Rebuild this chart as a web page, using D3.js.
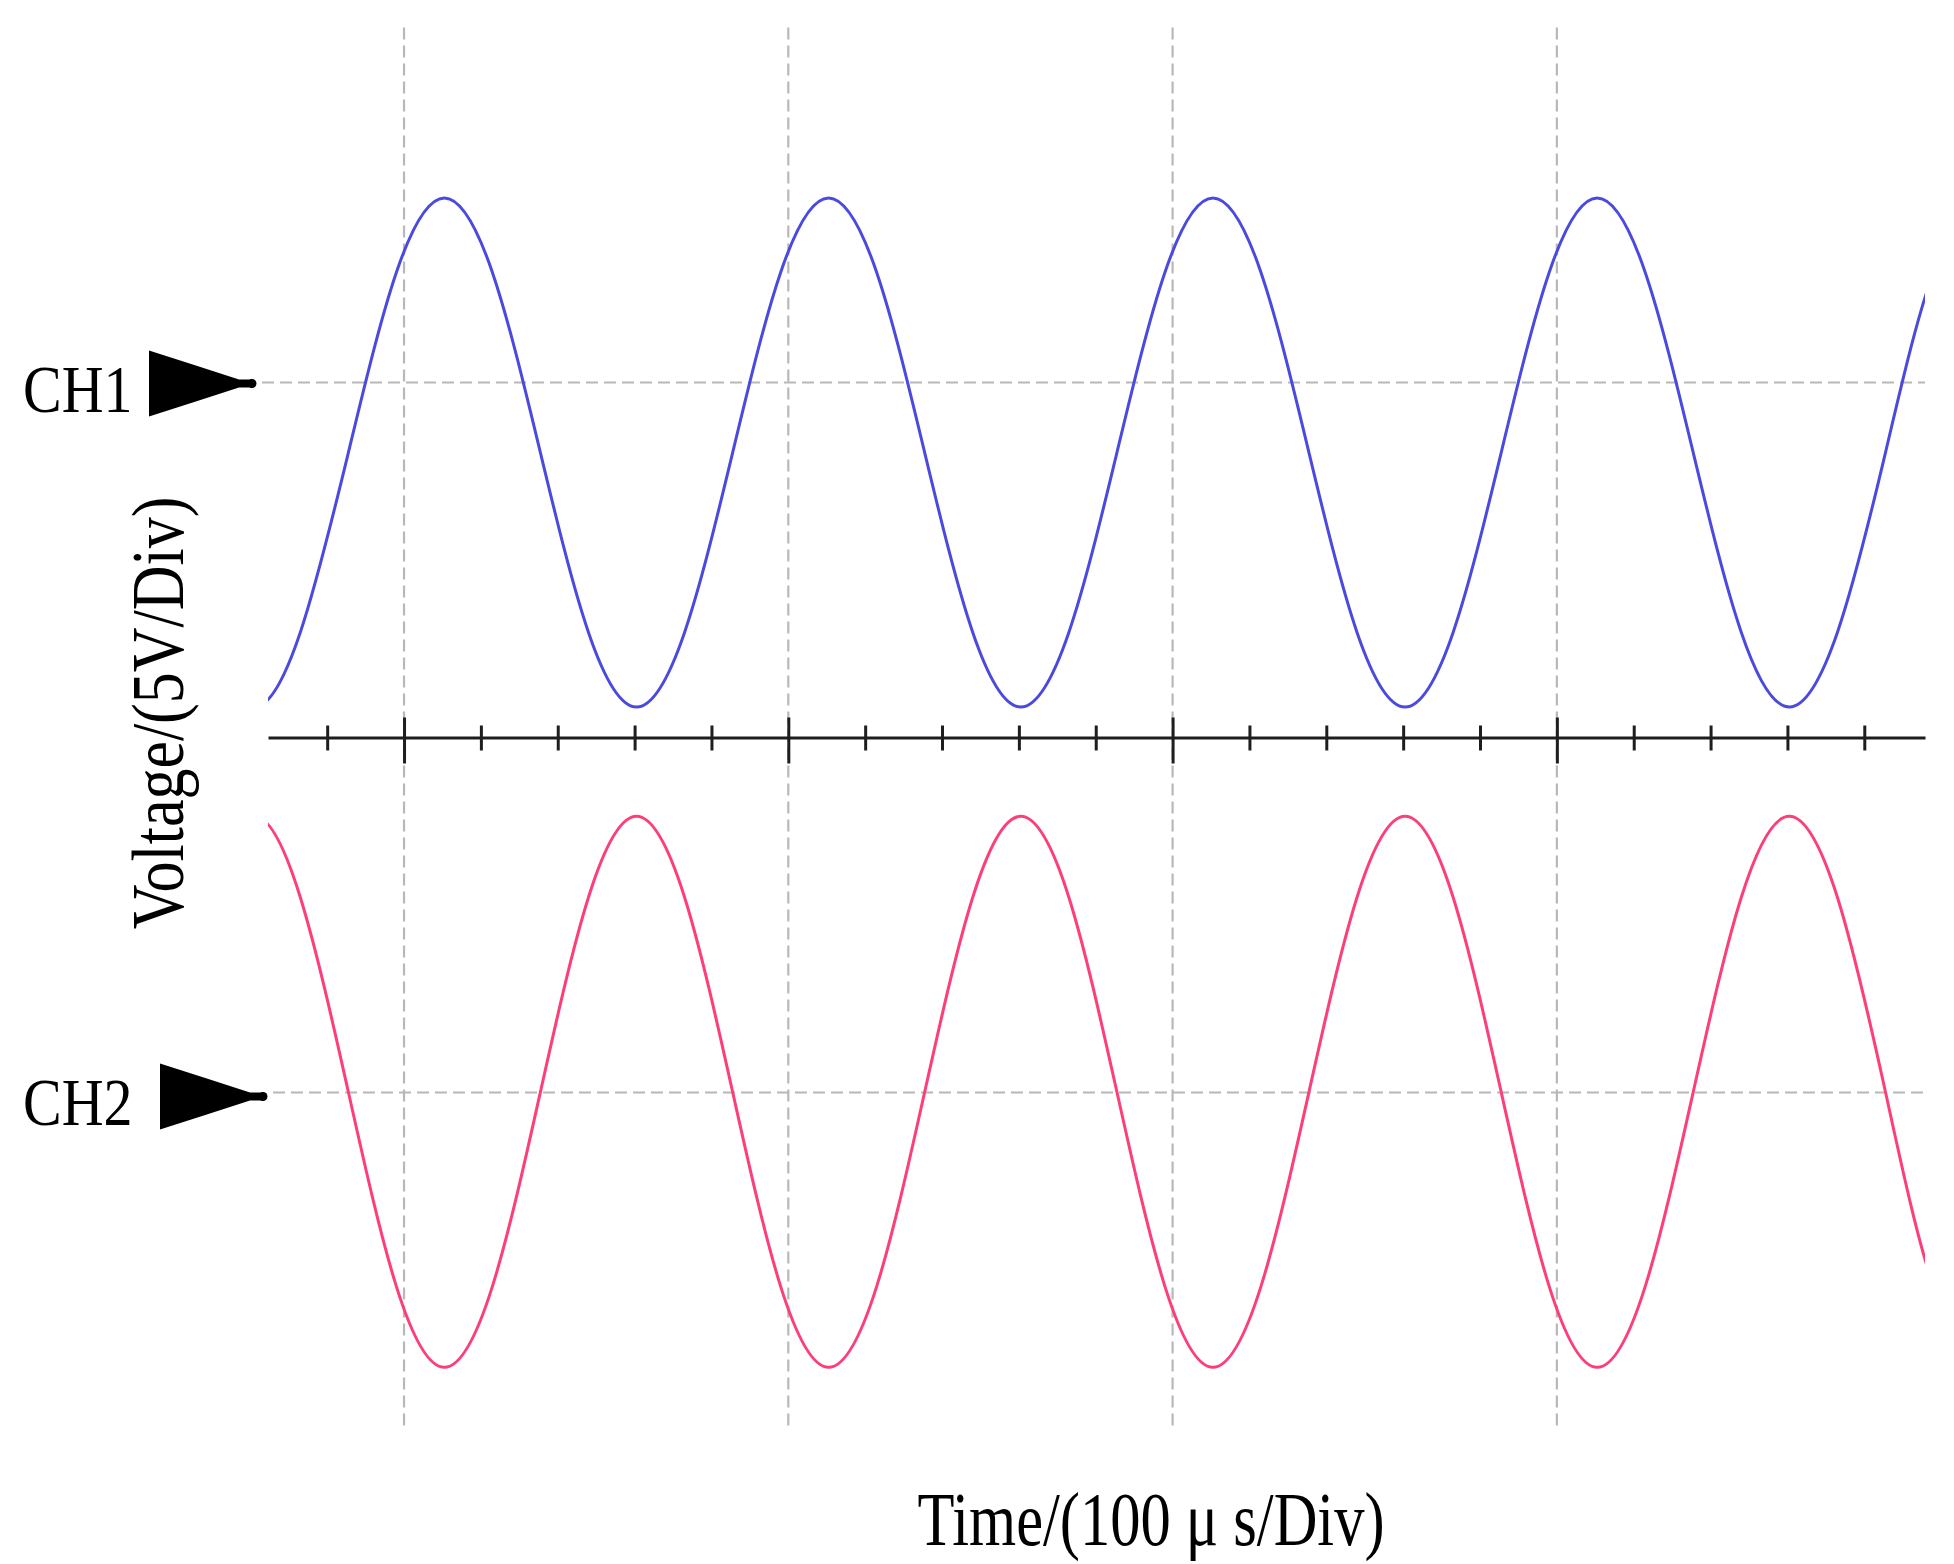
<!DOCTYPE html>
<html>
<head>
<meta charset="utf-8">
<script src="https://cdn.jsdelivr.net/npm/d3@7"></script>
<style>
  html, body { margin: 0; padding: 0; background: #fff; }
  #viz { width: 1954px; height: 1564px; }
  text { font-family: "Liberation Serif", "Times New Roman", serif; fill: #000; }
</style>
</head>
<body>
<div id="viz"></div>
<script>
// sample times (microseconds)
var timeUs = [48, 60.5, 73, 85.5, 98, 110.5, 123, 135.5, 148, 160.5, 173, 185.5,
    198, 210.5, 223, 235.5, 248, 260.5, 273, 285.5, 298, 310.5, 323, 335.5,
    348, 360.5, 373, 385.5, 398, 410.5, 423, 435.5, 448, 460.5, 473, 485.5,
    498, 510.5];
// CH1 voltage (V) relative to its ground marker
var ch1Volts = [-3.52, -4.57, -3.52, -0.99, 1.55, 2.60, 1.55, -0.99,
    -3.52, -4.57, -3.52, -0.99, 1.55, 2.60, 1.55, -0.99,
    -3.52, -4.57, -3.52, -0.99, 1.55, 2.60, 1.55, -0.99,
    -3.52, -4.57, -3.52, -0.99, 1.55, 2.60, 1.55, -0.99,
    -3.52, -4.57, -3.52, -0.99, 1.55, 2.60];
// CH2 voltage (V) relative to its ground marker
var ch2Volts = [2.75, 3.89, 2.75, 0.01, -2.73, -3.87, -2.73, 0.01,
    2.75, 3.89, 2.75, 0.01, -2.73, -3.87, -2.73, 0.01,
    2.75, 3.89, 2.75, 0.01, -2.73, -3.87, -2.73, 0.01,
    2.75, 3.89, 2.75, 0.01, -2.73, -3.87, -2.73, 0.01,
    2.75, 3.89, 2.75, 0.01, -2.73, -3.87];
var channels = ["CH1", "CH2"];
var channelRefs = [5, -5];          // ground marker positions, volts on screen
var majorTicks = [100, 200, 300, 400];
var minorTicks = [80, 120, 140, 160, 180, 220, 240, 260, 280, 320, 340, 360, 380, 420, 440, 460, 480];
var xTitle = "Time/(100 \u03bc s/Div)";
var yTitle = "Voltage/(5V/Div)";

var width = 1954, height = 1564;
var svg = d3.select("#viz").append("svg")
    .attr("width", width)
    .attr("height", height);

var xScale = d3.scaleLinear().domain([64.6, 495.8]).range([268, 1925]);
var yScale = d3.scaleLinear().domain([-10, 10]).range([1447.5, 27.5]);

svg.append("clipPath").attr("id", "plotClip")
    .append("rect")
    .attr("x", xScale.range()[0]).attr("y", 0)
    .attr("width", xScale.range()[1] - xScale.range()[0])
    .attr("height", height);

// vertical dashed grid
svg.append("g").selectAll("line")
    .data(majorTicks)
    .join("line")
    .attr("x1", function (d) { return xScale(d); })
    .attr("x2", function (d) { return xScale(d); })
    .attr("y1", yScale(10))
    .attr("y2", yScale(-9.75))
    .attr("stroke", "#b8b8b8")
    .attr("stroke-width", 2.2)
    .attr("stroke-dasharray", "12,6");

// channel reference lines
svg.append("g").selectAll("line")
    .data(channelRefs)
    .join("line")
    .attr("x1", function (d, i) { return i == 0 ? 262 : 273; })
    .attr("x2", xScale.range()[1])
    .attr("y1", function (d) { return yScale(d); })
    .attr("y2", function (d) { return yScale(d); })
    .attr("stroke", "#b8b8b8")
    .attr("stroke-width", 2.2)
    .attr("stroke-dasharray", "12,6");

// time axis across the screen centre
var axis = d3.axisBottom(xScale)
    .tickValues(minorTicks.concat(majorTicks))
    .tickFormat("")
    .tickSizeOuter(0);
var axisG = svg.append("g")
    .attr("transform", "translate(0," + yScale(0) + ")")
    .call(axis);
axisG.select(".domain").attr("stroke", "#1e1e1e").attr("stroke-width", 3);
axisG.selectAll(".tick line")
    .attr("stroke", "#1e1e1e")
    .attr("stroke-width", 3)
    .attr("y1", function (d) { return majorTicks.indexOf(d) >= 0 ? -20 : -12; })
    .attr("y2", function (d) { return majorTicks.indexOf(d) >= 0 ? 26 : 13; });

// waveforms
var ch1 = timeUs.map(function (t, i) { return { t: t, v: channelRefs[0] + ch1Volts[i] }; });
var ch2 = timeUs.map(function (t, i) { return { t: t, v: channelRefs[1] + ch2Volts[i] }; });
var line = d3.line()
    .x(function (d) { return xScale(d.t); })
    .y(function (d) { return yScale(d.v); })
    .curve(d3.curveNatural);

var waves = svg.append("g").attr("clip-path", "url(#plotClip)");
waves.append("path").datum(ch1)
    .attr("d", line)
    .attr("fill", "none")
    .attr("stroke", "#4a4ade")
    .attr("stroke-width", 3);
waves.append("path").datum(ch2)
    .attr("d", line)
    .attr("fill", "none")
    .attr("stroke", "#fc3f78")
    .attr("stroke-width", 3);

// channel markers
var markerX = [149, 160];
var markers = svg.append("g").selectAll("g")
    .data(channels)
    .join("g")
    .attr("transform", function (d, i) {
        return "translate(" + markerX[i] + "," + (yScale(channelRefs[i]) + (i == 0 ? 1 : 4)) + ")";
    });
markers.append("path")
    .attr("d", "M0,-33 Q44,-19 90,-4 L104,-4 L104,4 L90,4 Q44,19 0,33 Z")
    .attr("fill", "#000");
markers.append("circle")
    .attr("cx", 103).attr("cy", 0).attr("r", 4.5)
    .attr("fill", "#000");
markers.append("text")
    .attr("x", function (d, i) { return 23 - markerX[i]; })
    .attr("y", 0)
    .attr("transform", "translate(0,28) scale(1,1.15)")
    .attr("font-size", 58)
    .text(function (d) { return d; });

// axis titles
svg.append("text")
    .attr("transform", "translate(1151,1545) scale(1,1.25)")
    .attr("text-anchor", "middle")
    .attr("font-size", 60.5)
    .text(xTitle);
svg.append("text")
    .attr("transform", "translate(183,713) rotate(-90) scale(1,1.19)")
    .attr("text-anchor", "middle")
    .attr("font-size", 62)
    .text(yTitle);
</script>
</body>
</html>
